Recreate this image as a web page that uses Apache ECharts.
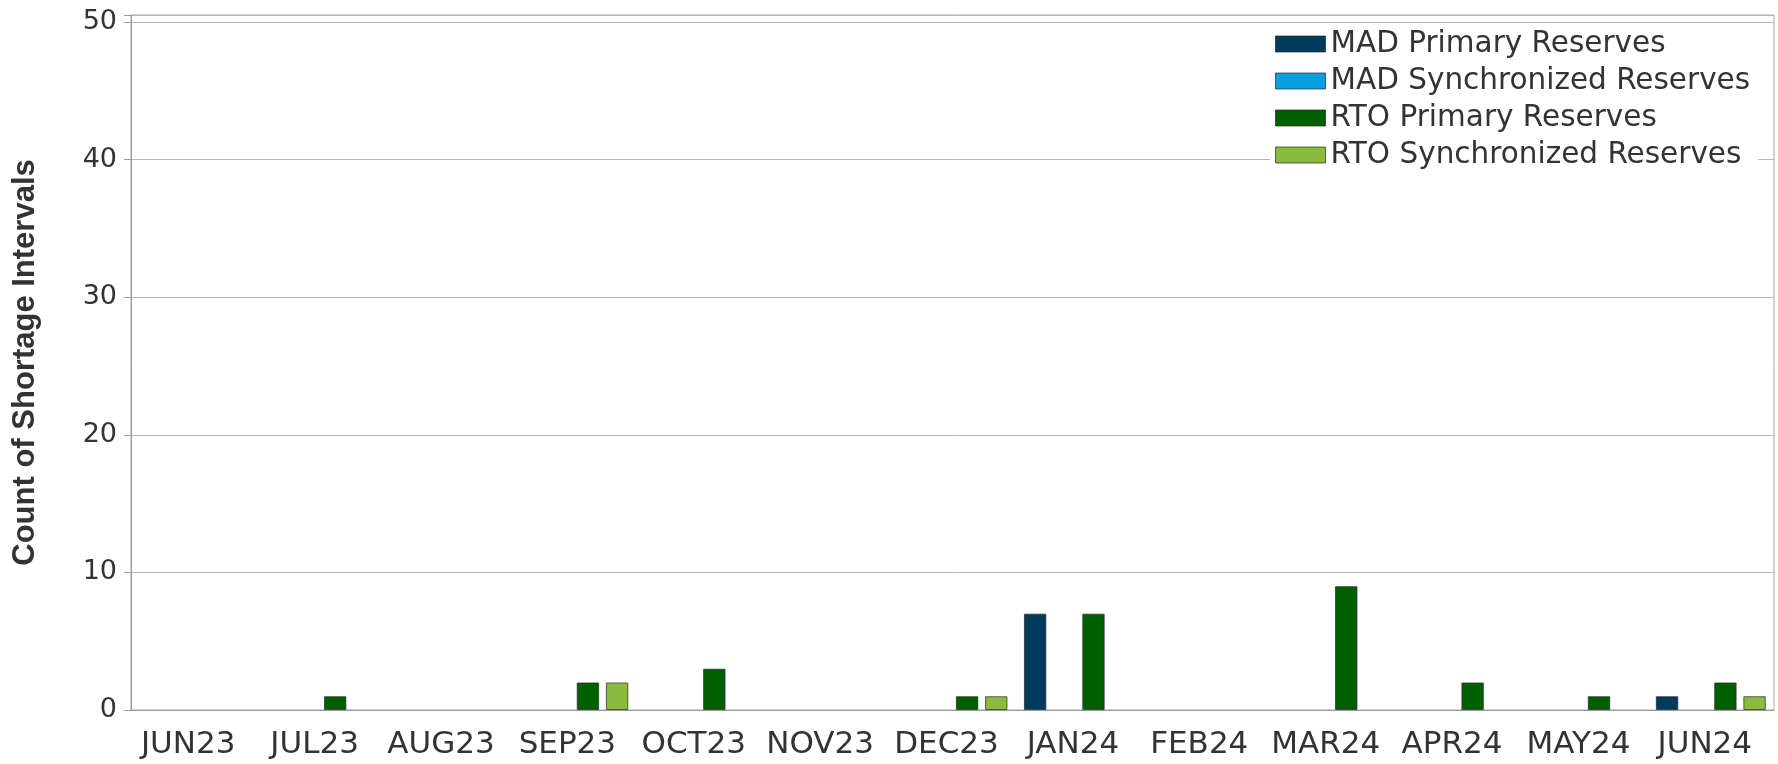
<!DOCTYPE html>
<html>
<head>
<meta charset="utf-8">
<script src="https://cdn.jsdelivr.net/npm/echarts@6/dist/echarts.min.js"></script>
<style>
  html, body { margin: 0; padding: 0; background: #fff; }
  #chart { width: 1778px; height: 764px; }
</style>
</head>
<body>
<div id="chart"></div>
<script>
var months = ['JUN23', 'JUL23', 'AUG23', 'SEP23', 'OCT23', 'NOV23', 'DEC23',
  'JAN24', 'FEB24', 'MAR24', 'APR24', 'MAY24', 'JUN24'];
var madPrimary = [0, 0, 0, 0, 0, 0, 0, 7, 0, 0, 0, 0, 1];
var madSync = [0, 0, 0, 0, 0, 0, 0, 0, 0, 0, 0, 0, 0];
var rtoPrimary = [0, 1, 0, 2, 3, 0, 1, 7, 0, 9, 2, 1, 2];
var rtoSync = [0, 0, 0, 2, 0, 0, 1, 0, 0, 0, 0, 0, 1];
var yTicks = [0, 10, 20, 30, 40, 50];

var chart = echarts.init(document.getElementById('chart'));

// zero counts draw no bar at all
function bars(name, data, color) {
  return {
    name: name,
    type: 'bar',
    barGap: '30%',
    barCategoryGap: '13%',
    data: data.map(function (v) { return v === 0 ? '-' : v; }),
    itemStyle: {
      color: color,
      borderColor: 'rgba(40,40,40,0.7)',
      borderWidth: 1
    }
  };
}

chart.setOption({
  animation: false,
  textStyle: { fontFamily: 'DejaVu Sans' },
  grid: {
    left: 131,
    right: 4,
    top: 15,
    bottom: 54,
    outerBoundsMode: 'none',
    containLabel: false,
    show: true,
    borderColor: '#a8a8a8',
    borderWidth: 1
  },
  legend: {
    orient: 'vertical',
    left: 1270,
    top: 24,
    padding: [5, 8, 5, 5],
    backgroundColor: '#fff',
    itemWidth: 50,
    itemHeight: 16,
    itemGap: 7,
    icon: 'rect',
    itemStyle: { borderColor: 'rgba(40,40,40,0.7)', borderWidth: 1 },
    textStyle: { fontSize: 29.5, color: '#333', fontFamily: 'DejaVu Sans' },
    data: ['MAD Primary Reserves', 'MAD Synchronized Reserves', 'RTO Primary Reserves', 'RTO Synchronized Reserves']
  },
  xAxis: {
    type: 'category',
    data: months,
    axisLine: { lineStyle: { color: '#999', width: 1 } },
    axisTick: { show: false },
    axisLabel: { fontSize: 31, color: '#333', margin: 19, interval: 0, padding: [0, 12, 0, 0] }
  },
  yAxis: {
    type: 'value',
    min: 0,
    max: 50.5,
    interval: 10,
    name: 'Count of Shortage Intervals',
    nameLocation: 'middle',
    nameGap: 90,
    nameTextStyle: { fontSize: 31, fontWeight: 'bold', color: '#333', fontFamily: 'Liberation Sans' },
    axisLine: { show: true, lineStyle: { color: '#999' } },
    axisTick: { show: true, length: 7, lineStyle: { color: '#999' } },
    axisLabel: {
      fontSize: 27,
      color: '#333',
      margin: 14,
      formatter: function (v) { return yTicks.indexOf(v) >= 0 ? v : ''; }
    },
    splitLine: { lineStyle: { color: '#b8b8b8', width: 1 } }
  },
  series: [
    bars('MAD Primary Reserves', madPrimary, '#003a5c'),
    bars('MAD Synchronized Reserves', madSync, '#0a9fe0'),
    bars('RTO Primary Reserves', rtoPrimary, '#005f00'),
    bars('RTO Synchronized Reserves', rtoSync, '#8bbb3c')
  ]
});
</script>
</body>
</html>
